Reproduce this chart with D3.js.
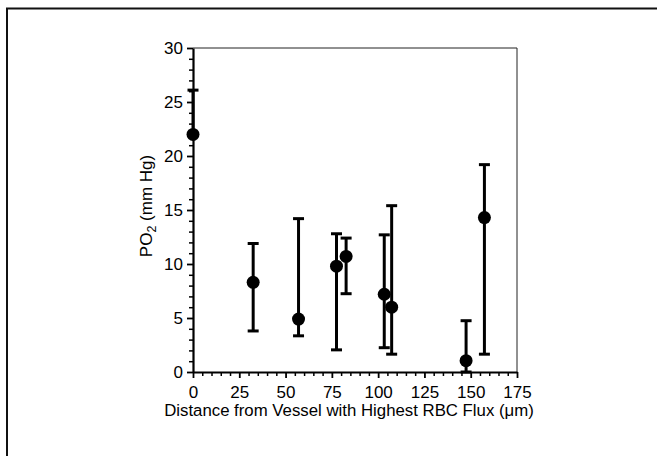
<!DOCTYPE html>
<html>
<head>
<meta charset="utf-8">
<script src="https://cdn.jsdelivr.net/npm/d3@7"></script>
<style>
  body { margin: 0; background: #fff; }
  text { font-family: "Liberation Sans", Arial, sans-serif; fill: #000; }
</style>
</head>
<body>
<svg id="chart"></svg>
<script>
// 数据：距离、PO2 均值、误差棒上下限
var distance = [0, 32.5, 57, 77.5, 82.7, 103.3, 107.3, 147.5, 157.4];
var po2      = [22, 8.3, 4.9, 9.8, 10.7, 7.2, 6.0, 1.05, 14.3];
var errUpper = [26.1, 11.9, 14.2, 12.8, 12.4, 12.7, 15.4, 4.75, 19.2];
var errLower = [22, 3.8, 3.35, 2.05, 7.25, 2.25, 1.65, 0, 1.65];
var xTicks = [0, 25, 50, 75, 100, 125, 150, 175];
var yTicks = [0, 5, 10, 15, 20, 25, 30];

var width = 657;
var height = 456;
var margin = {top: 48, right: 140, bottom: 84, left: 193};

var svg = d3.select("#chart")
    .attr("width", width)
    .attr("height", height);

// 外框（只露出上边和左边）
svg.append("path")
    .attr("d", "M7,460 V8.5 H660")
    .attr("fill", "none")
    .attr("stroke", "#111")
    .attr("stroke-width", 2);

var x = d3.scaleLinear()
    .domain([0, 175])
    .range([margin.left, width - margin.right]);

var y = d3.scaleLinear()
    .domain([0, 30])
    .range([height - margin.bottom, margin.top]);

// 上边和右边的细框线
svg.append("path")
    .attr("d", `M${x(0)},${y(30)} H${x(175)} V${y(0)}`)
    .attr("fill", "none")
    .attr("stroke", "#222")
    .attr("stroke-width", 1);

// 次刻度
var xMinor = d3.range(0, 176, 5).filter(v => v % 25 != 0);
var yMinor = d3.range(0, 31, 1).filter(v => v % 5 != 0);

svg.append("g")
    .attr("transform", `translate(0,${y(0)})`)
    .call(d3.axisBottom(x).tickValues(xMinor).tickSize(4).tickFormat(""))
    .call(g => g.select(".domain").remove())
    .call(g => g.selectAll("line").attr("stroke-width", 1.5));

svg.append("g")
    .attr("transform", `translate(${x(0)},0)`)
    .call(d3.axisLeft(y).tickValues(yMinor).tickSize(4).tickFormat(""))
    .call(g => g.select(".domain").remove())
    .call(g => g.selectAll("line").attr("stroke-width", 1.5));

// 主刻度和坐标轴
var xAxis = svg.append("g")
    .attr("transform", `translate(0,${y(0)})`)
    .call(d3.axisBottom(x).tickValues(xTicks).tickSize(6).tickPadding(8).tickSizeOuter(0));

var yAxis = svg.append("g")
    .attr("transform", `translate(${x(0)},0)`)
    .call(d3.axisLeft(y).tickValues(yTicks).tickSize(6).tickPadding(4).tickSizeOuter(0));

[xAxis, yAxis].forEach(g => {
    g.select(".domain").attr("stroke-width", 2.2).attr("stroke", "#000");
    g.selectAll(".tick line").attr("stroke-width", 1.8).attr("stroke", "#000");
    g.selectAll(".tick text")
        .style("font-family", "'Liberation Sans', Arial, sans-serif")
        .style("font-size", "17px")
        .attr("fill", "#000");
});

// 误差棒
var data = distance.map((d, i) => ({x: d, y: po2[i], hi: errUpper[i], lo: errLower[i]}));
var capW = 5.5;

var bars = svg.append("g").attr("stroke", "#000").attr("stroke-width", 3);

data.forEach(d => {
    bars.append("line")
        .attr("x1", x(d.x)).attr("x2", x(d.x))
        .attr("y1", y(d.lo)).attr("y2", y(d.hi));
    bars.append("line")
        .attr("x1", x(d.x) - capW).attr("x2", x(d.x) + capW)
        .attr("y1", y(d.hi)).attr("y2", y(d.hi));
    if (d.lo < d.y) {
        bars.append("line")
            .attr("x1", x(d.x) - capW).attr("x2", x(d.x) + capW)
            .attr("y1", y(d.lo)).attr("y2", y(d.lo));
    }
});

// 数据点
svg.append("g")
    .selectAll("circle")
    .data(data)
    .join("circle")
    .attr("cx", d => x(d.x))
    .attr("cy", d => y(d.y))
    .attr("r", 6.5)
    .attr("fill", "#000");

// 坐标轴标题
svg.append("text")
    .attr("x", 349)
    .attr("y", 416)
    .attr("text-anchor", "middle")
    .style("font-size", "16.8px")
    .text("Distance from Vessel with Highest RBC Flux (\u03BCm)");

var yTitle = svg.append("text")
    .attr("transform", `translate(152,${(y(0) + y(30)) / 2 - 4}) rotate(-90)`)
    .attr("text-anchor", "middle")
    .style("font-size", "17px");
yTitle.append("tspan").text("PO");
yTitle.append("tspan").attr("dy", 4).style("font-size", "12.5px").text("2");
yTitle.append("tspan").attr("dy", -4).text(" (mm Hg)");
</script>
</body>
</html>
